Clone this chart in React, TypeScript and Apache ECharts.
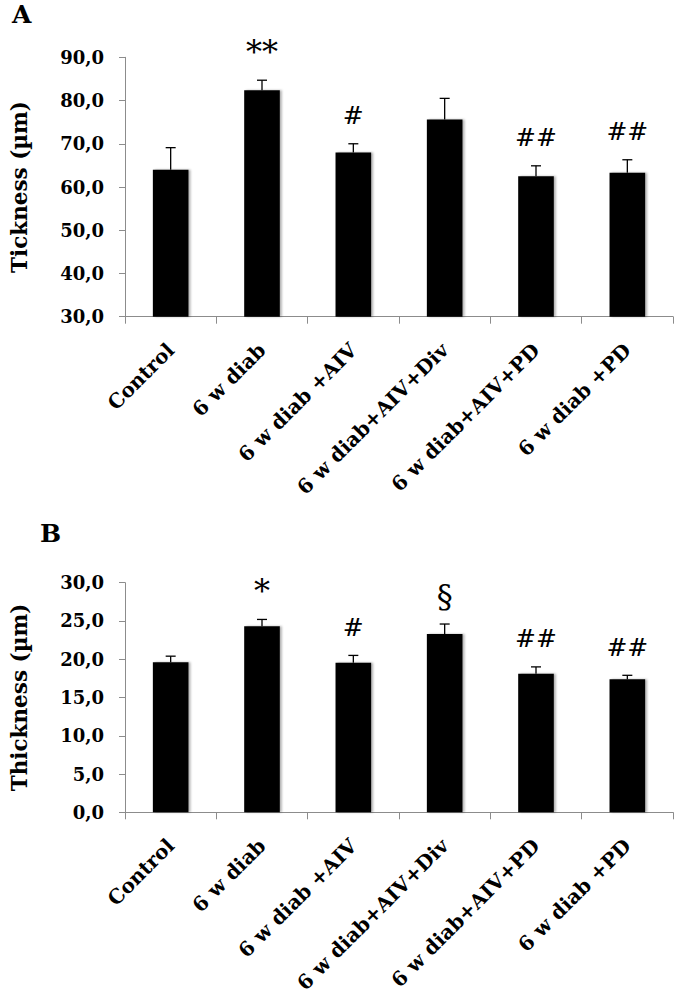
import React, { useEffect, useRef } from "react";
import * as echarts from "echarts";

const categories = [
  "Control",
  "6 w diab",
  "6 w diab +AIV",
  "6 w diab+AIV+Div",
  "6 w diab+AIV+PD",
  "6 w diab +PD",
];

// Panel A — Tickness (µm)
const meanA = [64.0, 82.4, 68.0, 75.6, 62.5, 63.3];
const errA = [5.1, 2.3, 2.0, 4.9, 2.4, 3.0];
const marksA = ["", "**", "#", "", "##", "##"];
const axisA = { min: 30, max: 90, interval: 10 };

// Panel B — Thickness (µm)
const meanB = [19.6, 24.3, 19.55, 23.3, 18.1, 17.4];
const errB = [0.8, 0.9, 0.95, 1.3, 0.9, 0.5];
const marksB = ["", "*", "#", "§", "##", "##"];
const axisB = { min: 0, max: 30, interval: 5 };

const SERIF = "DejaVu Serif";
const AXIS_GREY = "#8c8c8c";

function fmt(v: number) {
  return v.toFixed(1).replace(".", ",");
}

function errSeries(idx: number, means: number[], errs: number[], marks: string[]) {
  return {
    type: "custom",
    xAxisIndex: idx,
    yAxisIndex: idx,
    clip: false,
    silent: true,
    z: 5,
    data: means.map((m, i) => [i, m, errs[i]]),
    renderItem: (params: any, api: any) => {
      const x = api.value(0);
      const m = api.value(1);
      const e = api.value(2);
      const mark = marks[params.dataIndex];
      const base = api.coord([x, m]);
      const top = api.coord([x, m + e]);
      const cap = 5;
      const children: any[] = [
        {
          type: "line",
          shape: { x1: base[0], y1: base[1], x2: top[0], y2: top[1] },
          style: { stroke: "#000", lineWidth: 1.3 },
        },
        {
          type: "line",
          shape: { x1: top[0] - cap, y1: top[1], x2: top[0] + cap, y2: top[1] },
          style: { stroke: "#000", lineWidth: 1.3 },
        },
      ];
      if (mark) {
        const big = mark.indexOf("#") < 0;
        children.push({
          type: "text",
          x: top[0],
          y: top[1] - 28,
          style: {
            text: mark,
            fill: "#000",
            font: `normal ${big ? 32 : 25}px "${SERIF}"`,
            align: "center",
            verticalAlign: "middle",
          },
        });
      }
      return { type: "group", children };
    },
  };
}

function xAxisDef(idx: number) {
  return {
    type: "category",
    gridIndex: idx,
    data: categories,
    boundaryGap: true,
    axisLine: { show: true, lineStyle: { color: AXIS_GREY, width: 1 } },
    axisTick: { show: true, length: 7, alignWithLabel: false, lineStyle: { color: AXIS_GREY } },
    axisLabel: {
      interval: 0,
      rotate: 45,
      margin: 30,
      color: "#000",
      fontFamily: SERIF,
      fontWeight: "bold",
      fontSize: 20,
    },
    splitLine: { show: false },
  };
}

function yAxisDef(idx: number, ax: { min: number; max: number; interval: number }, name: string) {
  return {
    type: "value",
    gridIndex: idx,
    min: ax.min,
    max: ax.max,
    interval: ax.interval,
    name,
    nameLocation: "middle",
    nameRotate: 90,
    nameGap: 106,
    nameTextStyle: {
      color: "#000",
      fontFamily: SERIF,
      fontWeight: "bold",
      fontSize: 21.5,
      verticalAlign: "middle",
    },
    axisLine: { show: true, lineStyle: { color: AXIS_GREY, width: 1 } },
    axisTick: { show: true, length: 6, lineStyle: { color: AXIS_GREY } },
    axisLabel: {
      margin: 21,
      color: "#000",
      fontFamily: SERIF,
      fontWeight: "bold",
      fontSize: 18,
      formatter: (v: number) => fmt(v),
    },
    splitLine: { show: false },
  };
}

function barSeries(idx: number, means: number[]) {
  return {
    type: "bar",
    xAxisIndex: idx,
    yAxisIndex: idx,
    data: means,
    barWidth: "39%",
    itemStyle: {
      color: "#000",
      shadowColor: "rgba(0,0,0,0.3)",
      shadowBlur: 2,
      shadowOffsetX: 2,
      shadowOffsetY: 0,
    },
  };
}

export default function App() {
  const ref = useRef<HTMLDivElement>(null);

  useEffect(() => {
    if (!ref.current) return;
    const chart = echarts.init(ref.current, undefined, { renderer: "svg" });
    chart.setOption({
      animation: false,
      backgroundColor: "#fff",
      title: [
        {
          text: "A",
          left: 12,
          top: 2,
          padding: 0,
          textStyle: { fontFamily: SERIF, fontWeight: "bold", fontSize: 25, color: "#000" },
        },
        {
          text: "B",
          left: 40,
          top: 521,
          padding: 0,
          textStyle: { fontFamily: SERIF, fontWeight: "bold", fontSize: 25, color: "#000" },
        },
      ],
      grid: [
        { left: 118, right: 12, top: 57.3, height: 259.4, containLabel: false },
        { left: 118, right: 12, top: 582.7, height: 229.6, containLabel: false },
      ],
      xAxis: [xAxisDef(0), xAxisDef(1)],
      yAxis: [
        yAxisDef(0, axisA, "Tickness (µm)"),
        yAxisDef(1, axisB, "Thickness (µm)"),
      ],
      series: [
        barSeries(0, meanA),
        errSeries(0, meanA, errA, marksA),
        barSeries(1, meanB),
        errSeries(1, meanB, errB, marksB),
      ],
    });
    return () => chart.dispose();
  }, []);

  return (
    <div
      ref={ref}
      style={{ position: "absolute", left: 0, top: 0, width: 685, height: 997, background: "#fff" }}
    />
  );
}
